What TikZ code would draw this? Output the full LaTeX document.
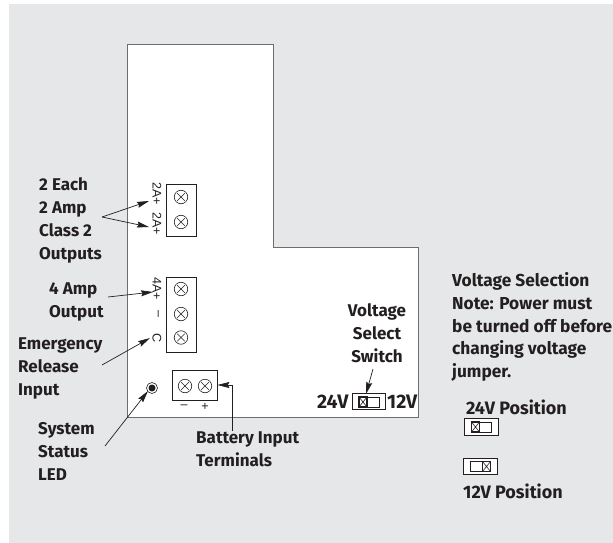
\documentclass[tikz,border=0pt]{standalone}
\usepackage{fontspec}
\setmainfont{Fira Sans}
\newfontfamily\smallf{Liberation Sans}
\usetikzlibrary{arrows.meta}
\definecolor{bgg}{HTML}{E6E7E8}
\definecolor{ink}{HTML}{231F20}
\tikzset{
 lab/.style={font=\fontsize{17}{23}\selectfont\bfseries,text=ink,align=left,inner sep=0pt,anchor=north west},
 labn/.style={lab,font=\fontsize{17.3}{22.9}\selectfont\bfseries},
 labp/.style={lab,font=\fontsize{18}{23}\selectfont\bfseries},
 labv/.style={lab,font=\fontsize{19.5}{23}\selectfont\bfseries},
 labc/.style={lab,align=center,anchor=north},
 small/.style={font=\fontsize{12.5}{14}\selectfont\smallf,text=ink,inner sep=0pt},
 term/.style={draw=ink,line width=0.7pt,fill=white,inner sep=0pt},
 screw/.style={circle,draw=ink,line width=0.6pt,minimum size=13.5pt,inner sep=0pt,path picture={
   \draw[ink,line width=0.5pt] ([shift={(-3.8pt,-3.8pt)}]path picture bounding box.center)--([shift={(3.8pt,3.8pt)}]path picture bounding box.center);
   \draw[ink,line width=0.5pt] ([shift={(-3.8pt,3.8pt)}]path picture bounding box.center)--([shift={(3.8pt,-3.8pt)}]path picture bounding box.center);}},
 arr/.style={draw=ink,line width=0.7pt,-{Stealth[length=12pt,width=6pt,inset=1.5pt]}},
 jumper/.style={draw=ink,fill=white,line width=1.5pt,minimum width=8pt,minimum height=10pt,inner sep=0pt,path picture={\draw[ink,line width=0.6pt](path picture bounding box.north west)--(path picture bounding box.south east)(path picture bounding box.north east)--(path picture bounding box.south west);}},
 swouter/.style={draw=ink,fill=white,line width=0.7pt,minimum width=33.5pt,minimum height=16.5pt,inner sep=0pt},
 swinner/.style={draw=ink,line width=0.6pt,minimum width=20pt,minimum height=10pt,inner sep=0pt},
}
\begin{document}
\begin{tikzpicture}[x=1pt,y=-1pt]
\useasboundingbox (0,0) rectangle (613,543);
\fill[white] (0,0) rectangle (613,543);
\fill[bgg] (9,4) rectangle (613,543);
% board
\draw[draw=ink!65,line width=1pt,fill=white] (127.5,44.5) -- (273,44.5) -- (273,247.5) -- (418.5,247.5) -- (418.5,417) -- (127.5,417) -- cycle;
% terminals
\node[term,minimum width=29.5pt,minimum height=52pt] (t1) at (181.5,210) {};
\node[screw] (s1) at (181,197) {};
\node[screw] (s2) at (181,222) {};
\node[term,minimum width=29.5pt,minimum height=75pt] (t2) at (181.5,314.5) {};
\node[screw] (s3) at (181,289) {};
\node[screw] (s4) at (181,314) {};
\node[screw] (s5) at (181,337.5) {};
\node[term,minimum width=45pt,minimum height=29.5pt] (t3) at (194.5,385.5) {};
\node[screw] (s6) at (185,386) {};
\node[screw] (s7) at (205,386) {};
\node[small,rotate=-90] (p1) at (157,194) {2A+};
\node[small,rotate=-90] (p2) at (157,224) {2A+};
\node[small,rotate=-90] (p3) at (157,289) {4A+};
\node[small,rotate=-90] (p4) at (157,314) {–};
\node[small,rotate=-90] (p5) at (157,338) {C};
\node[small] (m) at (184,407) {–};
\node[small] (pl) at (205,407) {+};
% LED
\node[circle,draw=ink,line width=0.6pt,minimum size=11pt,inner sep=0pt,fill=white] (led) at (152,388) {};
\node[circle,fill=ink,minimum size=7pt,inner sep=0pt] (ledc) at (led) {};
% labels
\node[lab] (a) at (39,177) {2 Each\\2 Amp\\Class 2\\Outputs};
\node[lab] (b) at (49,283) {4 Amp\\Output};
\node[lab] (c) at (18,338) {Emergency\\Release\\Input};
\node[lab] (d) at (38,422) {System\\Status\\LED};
\node[lab] (e) at (196,432) {Battery Input\\Terminals};
\node[labc] (f) at (377,303.5) {Voltage\\Select\\Switch};
\node[labv] (g) at (317,395) {24V};
\node[labv] (h) at (387,395) {12V};
\node[labn] (i) at (452,272) {Voltage Selection\\Note: Power must\\be turned off before\\changing voltage\\jumper.};
\node[labp] (j) at (466,400) {24V Position};
\node[labp] (k) at (463,484) {12V Position};
% arrows
\coordinate (a0) at (102,217);
\coordinate (a1) at (149,201);
\coordinate (a2) at (149,227);
\coordinate (b0) at (108,297);
\coordinate (b1) at (153,292);
\coordinate (c0) at (102,365);
\coordinate (c1) at (150,338);
\coordinate (d0) at (105,446);
\coordinate (d1) at (148,391);
\coordinate (e0) at (232,431);
\coordinate (e1) at (232,385);
\coordinate (f0) at (373,369);
\coordinate (f1) at (366,394);
\draw[arr] (a0) -- (a1);
\draw[arr] (a0) -- (a2);
\draw[arr] (b0) -- (b1);
\draw[arr] (c0) -- (c1);
\draw[arr] (d0) -- (d1);
\draw[arr] (e0) -- (e1) -- (t3.east |- e1);
% switches
\node[swouter] (sa) at (369,401.5) {};
\node[swinner] (sai) at (369,402) {};
\node[jumper] (saj) at (363,402) {};
\node[swouter] (sb) at (481.5,427) {};
\node[swinner] (sbi) at (481.5,427) {};
\node[jumper] (sbj) at (475.5,427) {};
\node[swouter] (sc) at (480.5,466.5) {};
\node[swinner] (sci) at (480.5,466.5) {};
\node[jumper] (scj) at (486.5,466.5) {};
\draw[arr] (f0) -- (f1);
\end{tikzpicture}
\end{document}
